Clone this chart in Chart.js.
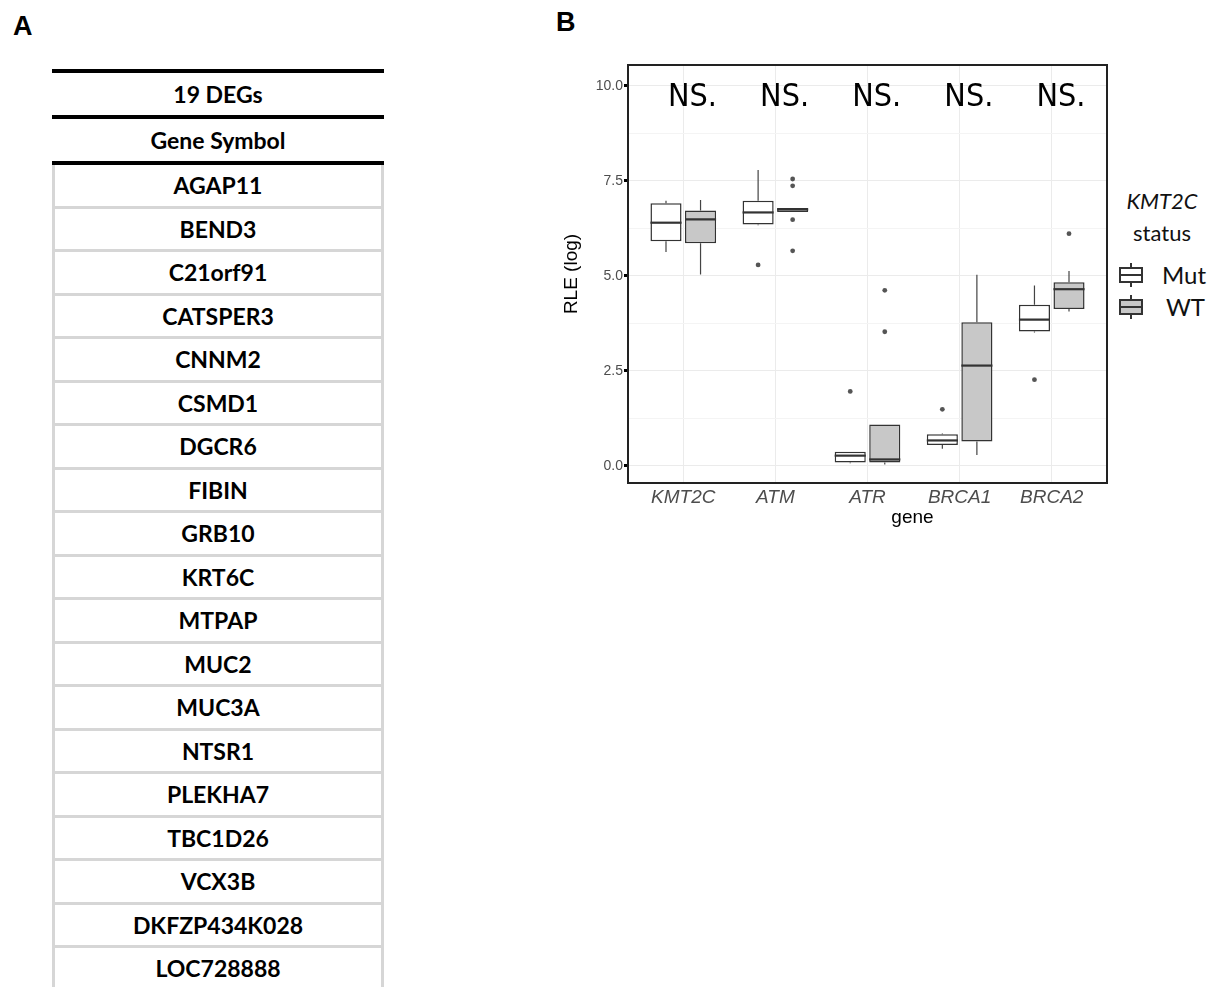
<!DOCTYPE html>
<html>
<head>
<meta charset="utf-8">
<script src="https://cdn.jsdelivr.net/npm/chart.js@4"></script>
<style>
  body { margin: 0; background: #fff; width: 1212px; height: 987px; overflow: hidden; position: relative; font-family: "Liberation Sans", Arial, sans-serif; }
  .panel-label { position: absolute; font-weight: bold; font-size: 27px; color: #000; }
  #table { position: absolute; left: 52px; top: 69px; width: 332px; font-family: Lato, sans-serif; font-weight: bold; font-size: 23px; color: #000; }
  #table .head { border-top: 4px solid #000; height: 41px; line-height: 41px; text-align: center; padding-top: 1px; box-sizing: content-box; }
  #table .row { border-left: 3px solid #d6d6d6; border-right: 3px solid #d6d6d6; border-bottom: 3px solid #d6d6d6; height: 40.5px; line-height: 40.5px; text-align: center; }
  #table .thick { border-bottom: 4px solid #000; }
  #wrap { position: absolute; left: 560px; top: 40px; width: 550px; height: 500px; }
  #legend { position: absolute; left: 1112px; top: 185px; width: 100px; font-family: Lato, sans-serif; color: #111; }
  #legend .t { text-align: center; font-size: 22px; line-height: 32px; }
  .key { position: relative; height: 32px; }
  .key .glyph { position: absolute; left: 7px; top: 4px; width: 24px; height: 24px; }
  .key .glyph .w { position: absolute; left: 11px; width: 2px; background: #333; }
  .key .glyph .b { position: absolute; left: 0; top: 4px; width: 20px; height: 12px; border: 2px solid #333; }
  .key .glyph .m { position: absolute; left: 0; top: 11px; width: 24px; height: 2px; background: #333; }
  .key .lab { position: absolute; left: 50px; top: 0; font-size: 24px; line-height: 32px; }
</style>
</head>
<body>
<div class="panel-label" style="left:13px; top:11px;">A</div>
<div class="panel-label" style="left:556px; top:7px;">B</div>

<div id="table"></div>

<div id="wrap"><canvas id="boxChart"></canvas></div>

<div id="legend">
  <div class="t" style="font-style:italic;">KMT2C</div>
  <div class="t">status</div>
  <div class="key" style="margin-top:10px;">
    <div class="glyph"><div class="w" style="top:0;height:24px;"></div><div class="b" style="background:#fff;"></div><div class="m"></div></div>
    <div class="lab">Mut</div>
  </div>
  <div class="key">
    <div class="glyph"><div class="w" style="top:0;height:24px;"></div><div class="b" style="background:#c8c8c8;"></div><div class="m"></div></div>
    <div class="lab" style="left:54px;">WT</div>
  </div>
</div>

<script>
  // Table contents (panel A)
  const tableTitle = '19 DEGs';
  const tableHeader = 'Gene Symbol';
  const degSymbols = ['AGAP11', 'BEND3', 'C21orf91', 'CATSPER3', 'CNNM2', 'CSMD1', 'DGCR6', 'FIBIN', 'GRB10',
    'KRT6C', 'MTPAP', 'MUC2', 'MUC3A', 'NTSR1', 'PLEKHA7', 'TBC1D26', 'VCX3B', 'DKFZP434K028', 'LOC728888'];

  // Boxplot data (panel B)
  const genes = ['KMT2C', 'ATM', 'ATR', 'BRCA1', 'BRCA2'];
  const mutLow = [5.63, 6.33, 0.07, 0.45, 3.51];
  const mutQ1  = [5.91, 6.35, 0.09, 0.55, 3.54];
  const mutMed = [6.40, 6.67, 0.27, 0.67, 3.85];
  const mutQ3  = [6.91, 6.98, 0.37, 0.83, 4.24];
  const mutHigh = [6.98, 7.79, 0.37, 0.85, 4.75];
  const mutOut = [[], [5.29], [1.96], [1.49], [2.27]];

  const wtLow = [5.04, 6.68, 0.04, 0.29, 4.06];
  const wtQ1  = [5.86, 6.68, 0.09, 0.64, 4.13];
  const wtMed = [6.49, 6.75, 0.17, 2.64, 4.65];
  const wtQ3  = [6.72, 6.79, 1.09, 3.78, 4.83];
  const wtHigh = [7.00, 6.79, 1.09, 5.03, 5.13];
  const wtOut = [[], [7.55, 7.37, 6.48, 5.66], [4.62, 3.53], [], [6.11]];

  const sigLabels = ['NS.', 'NS.', 'NS.', 'NS.', 'NS.'];
  const sigLevel = 9.69;
  const yMajor = [0, 2.5, 5, 7.5, 10];
  const yMinor = [1.25, 3.75, 6.25, 8.75];
  const xTitle = 'gene';

  // build the table
  const tbl = document.getElementById('table');
  tbl.innerHTML =
    '<div class="head thick">' + tableTitle + '</div>' +
    '<div class="head thick" style="border-top:none;">' + tableHeader + '</div>' +
    degSymbols.map(s => '<div class="row">' + s + '</div>').join('');

  const stats = [
    { low: mutLow, q1: mutQ1, med: mutMed, q3: mutQ3, high: mutHigh, out: mutOut },
    { low: wtLow, q1: wtQ1, med: wtMed, q3: wtQ3, high: wtHigh, out: wtOut }
  ];

  // whiskers, medians, outliers and the NS. labels
  const boxExtras = {
    id: 'boxExtras',
    beforeDatasetsDraw(chart) {
      const ctx = chart.ctx, y = chart.scales.y;
      ctx.save();
      ctx.strokeStyle = '#444';
      ctx.lineWidth = 1.2;
      stats.forEach((s, d) => {
        chart.getDatasetMeta(d).data.forEach((el, i) => {
          ctx.beginPath();
          ctx.moveTo(el.x, y.getPixelForValue(s.high[i]));
          ctx.lineTo(el.x, y.getPixelForValue(s.q3[i]));
          ctx.moveTo(el.x, y.getPixelForValue(s.q1[i]));
          ctx.lineTo(el.x, y.getPixelForValue(s.low[i]));
          ctx.stroke();
        });
      });
      ctx.restore();
    },
    afterDatasetsDraw(chart) {
      const ctx = chart.ctx, x = chart.scales.x, y = chart.scales.y;
      const a = chart.chartArea;
      ctx.save();
      stats.forEach((s, d) => {
        chart.getDatasetMeta(d).data.forEach((el, i) => {
          ctx.strokeStyle = '#333';
          ctx.lineWidth = 2.2;
          const my = y.getPixelForValue(s.med[i]);
          ctx.beginPath();
          ctx.moveTo(el.x - el.width / 2, my);
          ctx.lineTo(el.x + el.width / 2, my);
          ctx.stroke();
          ctx.fillStyle = '#555';
          s.out[i].forEach(v => {
            ctx.beginPath();
            ctx.arc(el.x, y.getPixelForValue(v), 2.4, 0, Math.PI * 2);
            ctx.fill();
          });
        });
      });
      ctx.fillStyle = '#000';
      ctx.font = '32px "Liberation Sans Narrow", "DejaVu Sans Condensed", sans-serif';
      ctx.textAlign = 'center';
      ctx.textBaseline = 'middle';
      sigLabels.forEach((t, i) => {
        ctx.fillText(t, x.getPixelForValue(i + 1.1), y.getPixelForValue(sigLevel));
      });
      // x axis title (sits right of the panel centre in the figure)
      ctx.font = '19px "Liberation Sans", Arial';
      ctx.fillText(xTitle, (a.left + a.right) / 2 + 45, a.bottom + 35);
      // panel border
      ctx.strokeStyle = '#222';
      ctx.lineWidth = 2;
      ctx.strokeRect(a.left, a.top, a.right - a.left, a.bottom - a.top);
      ctx.restore();
    }
  };

  const isMajor = v => yMajor.includes(v);

  new Chart(document.getElementById('boxChart'), {
    type: 'bar',
    data: {
      datasets: [
        {
          label: 'Mut',
          data: genes.map((g, i) => ({ x: i + 1, y: [mutQ1[i], mutQ3[i]] })),
          backgroundColor: '#ffffff',
          borderColor: '#333',
          borderWidth: 1.5,
          borderSkipped: false,
          categoryPercentage: 0.75,
          barPercentage: 0.9
        },
        {
          label: 'WT',
          data: genes.map((g, i) => ({ x: i + 1, y: [wtQ1[i], wtQ3[i]] })),
          backgroundColor: '#c8c8c8',
          borderColor: '#333',
          borderWidth: 1.5,
          borderSkipped: false,
          categoryPercentage: 0.75,
          barPercentage: 0.9
        }
      ]
    },
    options: {
      responsive: true,
      maintainAspectRatio: false,
      animation: false,
      layout: { padding: { top: 25, right: 3, left: 0, bottom: 0 } },
      plugins: { legend: { display: false }, tooltip: { enabled: false } },
      scales: {
        x: {
          type: 'linear',
          offset: false,
          min: 0.4,
          max: 5.6,
          afterBuildTicks: axis => { axis.ticks = genes.map((g, i) => ({ value: i + 1 })); },
          afterFit: axis => { axis.height = 57; },
          ticks: {
            callback: v => genes[v - 1],
            color: '#4d4d4d',
            font: { family: '"Liberation Sans", Arial', size: 19, style: 'italic' },
            padding: 3,
            maxRotation: 0,
            autoSkip: false
          },
          grid: { color: '#ebebeb', lineWidth: 1, drawTicks: false, offset: false },
          border: { display: false }
        },
        y: {
          min: -0.45,
          max: 10.55,
          afterBuildTicks: axis => { axis.ticks = yMajor.concat(yMinor).sort((a, b) => a - b).map(v => ({ value: v })); },
          afterFit: axis => { axis.width = 68; },
          ticks: {
            callback: v => isMajor(v) ? v.toFixed(1) : '',
            color: '#4d4d4d',
            font: { family: '"Liberation Sans", Arial', size: 14 },
            padding: 1
          },
          grid: {
            color: c => isMajor(c.tick.value) ? '#ebebeb' : '#f4f4f4',
            lineWidth: 1,
            tickLength: 4,
            tickWidth: 3,
            tickColor: c => isMajor(c.tick.value) ? '#000' : 'rgba(0,0,0,0)'
          },
          border: { display: false },
          title: {
            display: true,
            text: 'RLE (log)',
            color: '#000',
            font: { family: '"Liberation Sans", Arial', size: 19 },
            padding: { top: 0, bottom: 3 }
          }
        }
      }
    },
    plugins: [boxExtras]
  });
</script>
</body>
</html>
